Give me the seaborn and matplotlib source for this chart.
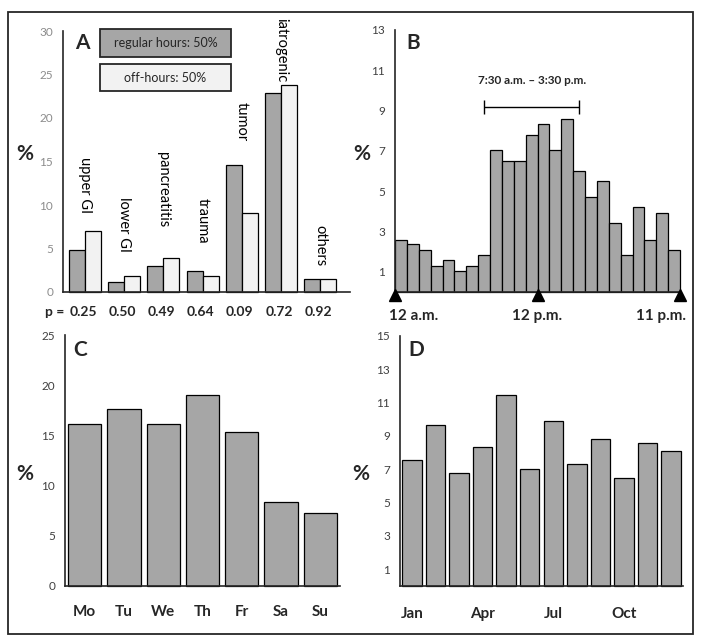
import matplotlib
matplotlib.use('Agg')
import matplotlib.pyplot as plt
import matplotlib.transforms as mtransforms
from matplotlib.patches import Rectangle
import numpy as np
import pandas as pd
import seaborn as sns

# --- data ---
causes = ['upper GI', 'lower GI', 'pancreatitis', 'trauma', 'tumor', 'iatrogenic', 'others']
regular_pct = [4.8, 1.2, 3.0, 2.4, 14.6, 22.9, 1.5]
offhours_pct = [7.0, 1.8, 3.9, 1.8, 9.1, 23.8, 1.5]
p_values = ['0.25', '0.50', '0.49', '0.64', '0.09', '0.72', '0.92']
group_names = ['regular hours: 50%', 'off-hours: 50%']

hours = list(range(24))
hourly_pct = [2.6, 2.4, 2.1, 1.3, 1.6, 1.05, 1.3, 1.85, 7.05, 6.5, 6.5, 7.8,
              8.35, 7.05, 8.6, 6.0, 4.7, 5.5, 3.4, 1.85, 4.2, 2.6, 3.9, 2.1]
hour_marks = [0, 12, 24]
hour_mark_labels = ['12 a.m.', '12 p.m.', '11 p.m.']
shift_start, shift_end = 7.5, 15.5
shift_label = '7:30 a.m. \u2013 3:30 p.m.'

weekdays = ['Mo', 'Tu', 'We', 'Th', 'Fr', 'Sa', 'Su']
weekday_pct = [16.1, 17.65, 16.1, 19.0, 15.3, 8.35, 7.25]

months = ['Jan', 'Feb', 'Mar', 'Apr', 'May', 'Jun',
          'Jul', 'Aug', 'Sep', 'Oct', 'Nov', 'Dec']
month_pct = [7.55, 9.65, 6.8, 8.35, 11.45, 7.05, 9.9, 7.35, 8.85, 6.5, 8.6, 8.1]
month_ticks = ['Jan', 'Apr', 'Jul', 'Oct']

# label placement for panel A (top of rotated text, in %)
cause_label_tops = [15.5, 10.9, 16.1, 10.8, 21.8, 31.5, 7.7]

DARK = '#a6a6a6'
LIGHT = '#f2f2f2'

sns.set_theme(style='white')
plt.rcParams['font.family'] = ['Lato', 'DejaVu Sans']

W, H = 704, 636
fig = plt.figure(figsize=(W / 100, H / 100), dpi=100)


def px_axes(left, top, right, bottom):
    return fig.add_axes([left / W, 1 - bottom / H, (right - left) / W, (bottom - top) / H])


def px_text(x, y, s, **kw):
    fig.text(x / W, 1 - y / H, s, **kw)


def style(ax, label_color):
    for s in ['top', 'right']:
        ax.spines[s].set_visible(False)
    for s in ['left', 'bottom']:
        ax.spines[s].set_color('#262626')
        ax.spines[s].set_linewidth(1.2)
    ax.tick_params(axis='y', direction='out', length=4, width=1, color='#262626',
                   labelcolor=label_color, labelsize=8.5, pad=3)
    ax.set_xlabel('')
    ax.set_ylabel('')
    for p in ax.patches:
        p.set_clip_on(False)


# outer frame
fig.add_artist(Rectangle((8 / W, 1 - 634 / H), 685 / W, 622 / H, transform=fig.transFigure,
                         fill=False, edgecolor='#262626', linewidth=1.3))

# ---------------- Panel A ----------------
axA = px_axes(63, 31, 350, 292)
dfA = pd.DataFrame({
    'cause': causes * 2,
    'pct': regular_pct + offhours_pct,
    'group': [group_names[0]] * len(causes) + [group_names[1]] * len(causes),
})
sns.barplot(data=dfA, x='cause', y='pct', hue='group', order=causes, hue_order=group_names,
            palette=[DARK, LIGHT], edgecolor='black', linewidth=0.9, width=0.82,
            legend=False, ax=axA)
axA.set_xlim(-0.56, 6.76)
axA.set_ylim(0, 30)
axA.set_yticks(range(0, 31, 5))
style(axA, '#8c8c8c')
axA.set_xticks([])
for i, (name, top) in enumerate(zip(causes, cause_label_tops)):
    axA.text(i, top, name, rotation=270, ha='center', va='top', fontsize=10.5,
             color='black', clip_on=False)
blendA = mtransforms.blended_transform_factory(axA.transData, axA.transAxes)
for i, p in enumerate(p_values):
    axA.text(i - 0.05, -0.077, p, transform=blendA, ha='center', va='center',
             fontsize=10, fontweight='bold')
axA.text(-0.52, -0.077, 'p =', transform=blendA, ha='right', va='center',
         fontsize=10, fontweight='bold')
# legend boxes
for (top, bottom), name, col in zip([(29, 57), (64, 91)], group_names, [DARK, LIGHT]):
    fig.add_artist(Rectangle((100 / W, 1 - bottom / H), 131 / W, (bottom - top) / H,
                             transform=fig.transFigure, facecolor=col,
                             edgecolor='#262626', linewidth=1.3))
    px_text(165.5, (top + bottom) / 2, name, ha='center', va='center', fontsize=9)
px_text(82, 43, 'A', ha='center', va='center', fontsize=15, fontweight='bold')
px_text(25, 154, '%', ha='center', va='center', fontsize=15, fontweight='bold')

# ---------------- Panel B ----------------
axB = px_axes(395, 30, 680, 292)
dfB = pd.DataFrame({'hour': hours, 'pct': hourly_pct})
sns.barplot(data=dfB, x='hour', y='pct', color=DARK, saturation=1, edgecolor='black',
            linewidth=0.9, width=1.0, ax=axB)
axB.set_xlim(-0.5, 23.5)
axB.set_ylim(0, 13)
axB.set_yticks(range(1, 14, 2))
style(axB, '#404040')
axB.set_xticks(np.arange(-0.5, 24, 1))
axB.set_xticklabels([])
axB.tick_params(axis='x', direction='out', length=5, width=1, color='#262626')
mark_x = [h - 0.5 for h in hour_marks]
axB.plot(mark_x, [-0.15] * len(mark_x), ls='none', marker='^', ms=8, color='black',
         clip_on=False, zorder=5)
blendB = mtransforms.blended_transform_factory(axB.transData, axB.transAxes)
offsets = [(-6, 'left'), (0, 'center'), (6, 'right')]
for x, lab, (dx, ha) in zip(mark_x, hour_mark_labels, offsets):
    tr = blendB + mtransforms.ScaledTranslation(dx / 100, 0, fig.dpi_scale_trans)
    axB.text(x, -0.09, lab, transform=tr, ha=ha, va='center',
             fontsize=11, fontweight='bold')
shift_y = 9.2
axB.errorbar([(shift_start + shift_end) / 2 - 0.5], [shift_y],
             xerr=[(shift_end - shift_start) / 2], fmt='none', ecolor='black',
             elinewidth=1, capsize=5, capthick=1)
axB.text((shift_start + shift_end) / 2 - 0.5, 10.5, shift_label, ha='center', va='center',
         fontsize=8.5, fontweight='bold')
px_text(413, 43, 'B', ha='center', va='center', fontsize=15, fontweight='bold')
px_text(362, 154, '%', ha='center', va='center', fontsize=15, fontweight='bold')

# ---------------- Panel C ----------------
axC = px_axes(65, 335, 340, 586)
dfC = pd.DataFrame({'day': weekdays, 'pct': weekday_pct})
sns.barplot(data=dfC, x='day', y='pct', color=DARK, saturation=1, edgecolor='black',
            linewidth=0.9, width=0.85, ax=axC)
axC.set_xlim(-0.5, len(weekdays) - 0.5)
axC.set_ylim(0, 25)
axC.set_yticks(range(0, 26, 5))
style(axC, '#404040')
axC.set_xticks(np.arange(-0.5, len(weekdays), 1), minor=True)
axC.tick_params(axis='x', which='minor', direction='out', length=5, width=1, color='#262626')
axC.tick_params(axis='x', which='major', length=0, pad=14, labelsize=11)
for t in axC.get_xticklabels():
    t.set_fontweight('bold')
px_text(80, 350, 'C', ha='center', va='center', fontsize=15, fontweight='bold')
px_text(25, 474, '%', ha='center', va='center', fontsize=15, fontweight='bold')

# ---------------- Panel D ----------------
axD = px_axes(400, 336, 683, 586)
dfD = pd.DataFrame({'month': months, 'pct': month_pct})
sns.barplot(data=dfD, x='month', y='pct', color=DARK, saturation=1, edgecolor='black',
            linewidth=0.9, width=0.83, ax=axD)
axD.set_xlim(-0.5, len(months) - 0.5)
axD.set_ylim(0, 15)
axD.set_yticks(range(1, 16, 2))
style(axD, '#404040')
axD.set_xticks(np.arange(-0.5, len(months), 1), minor=True)
axD.set_xticks([months.index(m) for m in month_ticks])
axD.set_xticklabels(month_ticks)
axD.tick_params(axis='x', which='minor', direction='out', length=5, width=1, color='#262626')
axD.tick_params(axis='x', which='major', length=0, pad=15, labelsize=11)
for t in axD.get_xticklabels():
    t.set_fontweight('bold')
px_text(416, 350, 'D', ha='center', va='center', fontsize=15, fontweight='bold')
px_text(361, 474, '%', ha='center', va='center', fontsize=15, fontweight='bold')

fig.savefig('out.png', dpi=100)
